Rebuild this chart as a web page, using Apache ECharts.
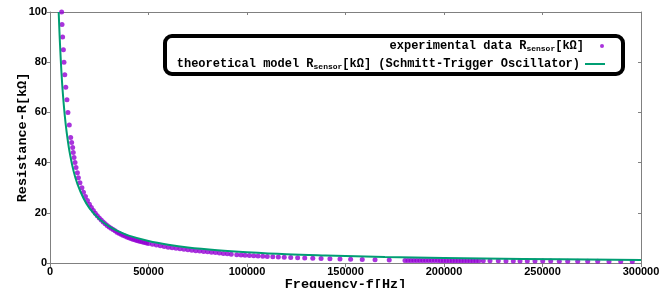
<!DOCTYPE html>
<html lang="en">
<head>
    <meta charset="UTF-8">
    <title>Resistance vs Frequency</title>
    <script src="https://cdn.jsdelivr.net/npm/echarts@6/dist/echarts.min.js"></script>
</head>
<body style="margin:0">
    <div id="main" style="width: 670px; height: 288px;"></div>
    <script>
        // measured points (Hz, kOhm)
        var expFreq = [
            5900, 6100, 6400, 6800, 7100, 7500, 8000, 8600, 9100, 9800, 10500,
            11000, 11500, 11800, 12200, 12700, 13200, 13900, 14400, 15200, 16200,
            17000, 18000, 19000, 20000, 21000, 22000, 23000, 24000, 25000, 26000,
            27000, 28000, 29000, 30000, 31000, 32000, 33000, 34000, 35000, 36000,
            37000, 38000, 39000, 40000, 41000, 42000, 43000, 44000, 45000, 46000,
            47000, 48000, 49000, 50000, 52000, 54000, 56000, 58000, 60000, 62000,
            64000, 66000, 68000, 70000, 72000, 74000, 76000, 78000, 80000, 82000,
            84000, 86000, 88000, 90000, 92000,
            94800, 97000, 99000, 101200, 103400, 105600, 108000, 110300, 113100, 115900,
            118900, 122200, 125700, 129300, 133400, 137600, 142100, 147200, 152600, 158500,
            165000, 172200,
            180200, 181700, 183200, 184700, 186200, 187700, 189200, 190700, 192200, 193700,
            195200, 196700, 198200, 199700, 201200, 202700, 204200, 205700, 207200, 208700,
            210200, 211700, 213200, 214700, 216200, 217700,
            219950, 223350, 227560, 231470, 235180, 238580, 242290, 246190, 250100, 254160,
            258530, 262790, 267870, 272940, 278020, 283760, 289700, 295580
        ];
        var expRes = [
            100, 95, 90, 85, 80, 75, 70, 65, 60, 55, 50,
            48, 46, 44, 42, 40, 38, 36, 34, 32, 30,
            28.2, 26.5, 24.9, 23.4, 22.1, 20.9, 19.8, 18.8, 17.9, 17.1,
            16.3, 15.6, 14.9, 14.3, 13.8, 13.3, 12.8, 12.3, 11.9, 11.5,
            11.1, 10.8, 10.4, 10.1, 9.8, 9.5, 9.3, 9.0, 8.8, 8.6,
            8.4, 8.2, 8.0, 7.8, 7.5, 7.2, 6.9, 6.6, 6.3, 6.1,
            5.9, 5.7, 5.5, 5.3, 5.1, 4.9, 4.8, 4.6, 4.5, 4.3,
            4.2, 4.0, 3.8, 3.7, 3.5,
            3.3, 3.2, 3.1, 3.0, 2.9, 2.8, 2.7, 2.6, 2.5, 2.4,
            2.3, 2.2, 2.1, 2.0, 1.9, 1.8, 1.7, 1.6, 1.5, 1.4,
            1.3, 1.2,
            1.0, 1.0, 0.99, 0.99, 0.98, 0.98, 0.97, 0.97, 0.96, 0.96,
            0.95, 0.95, 0.94, 0.94, 0.93, 0.93, 0.92, 0.92, 0.91, 0.91,
            0.9, 0.9, 0.89, 0.89, 0.88, 0.88,
            0.87, 0.86, 0.85, 0.84, 0.82, 0.81, 0.8, 0.78, 0.77, 0.75,
            0.74, 0.72, 0.7, 0.68, 0.66, 0.64, 0.62, 0.6
        ];

        // model curve
        var modelFreq = [4400, 5000, 6000, 7000, 8000, 9000, 10000, 12000, 14000, 17000,
            20000, 25000, 30000, 35000, 40000, 50000, 60000, 70000, 85000, 100000,
            120000, 140000, 170000, 200000, 240000, 300000];
        var modelRes = [100, 88.5, 73.5, 63, 55, 49, 44, 36.5, 31.3, 25.8,
            21.9, 17.5, 14.6, 12.5, 10.9, 8.8, 7.3, 6.2, 5.1, 4.3,
            3.5, 3.0, 2.4, 2.0, 1.6, 1.2];

        var expName = 'experimental data R{s|sensor}[kΩ]';
        var modelName = 'theoretical model R{s|sensor}[kΩ] (Schmitt-Trigger Oscillator)';

        var expData = expFreq.map(function (f, i) { return [f, expRes[i]]; });
        var modelData = modelFreq.map(function (f, i) { return [f, modelRes[i]]; });

        var grey = '#808080';
        var mono = '"Liberation Mono", "DejaVu Sans Mono", monospace';
        var sans = '"Liberation Sans", Arial, sans-serif';

        var legendText = {
            fontFamily: mono,
            fontWeight: 'bold',
            fontSize: 12,
            color: '#000',
            rich: {
                s: { fontFamily: mono, fontWeight: 'bold', fontSize: 8, verticalAlign: 'bottom', padding: [5, 0, 0, 0] }
            }
        };

        var chart = echarts.init(document.getElementById('main'));
        var option = {
            animation: false,
            grid: { left: 50, right: 29, top: 12, bottom: 25, outerBoundsMode: 'none' },
            legend: [
                {
                    data: [{ name: expName, icon: 'circle' }],
                    right: 66, top: 40, padding: 0,
                    align: 'right', itemWidth: 26, itemHeight: 4,
                    selectedMode: false,
                    textStyle: legendText
                },
                {
                    data: [{ name: modelName, icon: 'rect' }],
                    right: 65, top: 58, padding: 0,
                    align: 'right', itemWidth: 20, itemHeight: 2,
                    selectedMode: false,
                    textStyle: legendText
                }
            ],
            graphic: [{
                type: 'rect',
                shape: { x: 165, y: 36, width: 458, height: 38, r: 7 },
                style: { fill: 'rgba(0,0,0,0)', stroke: '#000', lineWidth: 4 },
                z: 10
            }],
            xAxis: [
                {
                    type: 'value', min: 0, max: 300000, interval: 50000,
                    name: 'Frequency-f[Hz]', nameLocation: 'middle', nameGap: 15,
                    nameMoveOverlap: false,
                    nameTextStyle: { fontFamily: mono, fontWeight: 'bold', fontSize: 13.5, color: '#000' },
                    axisLine: { lineStyle: { color: grey } },
                    axisTick: { length: 4, lineStyle: { color: grey } },
                    axisLabel: {
                        margin: 3, fontFamily: sans, fontWeight: 'bold', fontSize: 11, color: '#000',
                        formatter: function (v) { return String(v); }
                    },
                    splitLine: { show: false }
                },
                {
                    type: 'value', min: 0, max: 300000, interval: 50000, position: 'top',
                    axisLine: { onZero: false, lineStyle: { color: grey } },
                    axisTick: { inside: true, length: 3, lineStyle: { color: grey } },
                    axisLabel: { show: false },
                    splitLine: { show: false }
                }
            ],
            yAxis: [
                {
                    type: 'value', min: 0, max: 100, interval: 20,
                    name: 'Resistance-R[kΩ]', nameLocation: 'middle', nameGap: 20,
                    nameMoveOverlap: false,
                    nameTextStyle: { fontFamily: mono, fontWeight: 'bold', fontSize: 13.5, color: '#000' },
                    axisLine: { show: true, lineStyle: { color: grey } },
                    axisTick: { show: true, length: 3, lineStyle: { color: grey } },
                    axisLabel: { margin: 3, fontFamily: sans, fontWeight: 'bold', fontSize: 11, color: '#000' },
                    splitLine: { show: false }
                },
                {
                    type: 'value', min: 0, max: 100, interval: 20, position: 'right',
                    axisLine: { show: true, onZero: false, lineStyle: { color: grey } },
                    axisTick: { show: true, inside: true, length: 3, lineStyle: { color: grey } },
                    axisLabel: { show: false },
                    splitLine: { show: false }
                }
            ],
            series: [
                {
                    name: expName,
                    type: 'scatter',
                    data: expData,
                    symbolSize: 5,
                    itemStyle: { color: '#9400D3' },
                    z: 2
                },
                {
                    name: modelName,
                    type: 'line',
                    data: modelData,
                    smooth: 0.4,
                    showSymbol: false,
                    lineStyle: { color: '#009E73', width: 2 },
                    itemStyle: { color: '#009E73' },
                    z: 3
                }
            ]
        };
        chart.setOption(option);
    </script>
</body>
</html>
